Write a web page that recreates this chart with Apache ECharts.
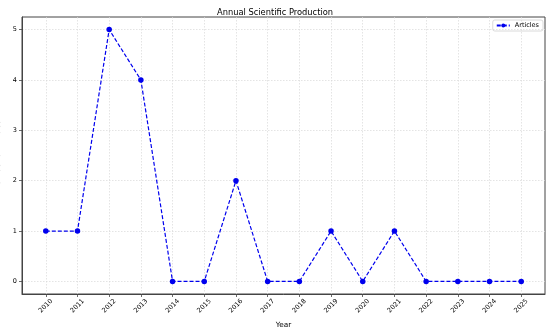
<!DOCTYPE html>
<html><head><meta charset="utf-8">
<script src="https://cdn.jsdelivr.net/npm/echarts@6/dist/echarts.min.js"></script>
<style>html,body{margin:0;padding:0;background:#fff}#c{width:550px;height:329px}</style>
</head><body><div id="c"></div>
<script>
const years = [2010,2011,2012,2013,2014,2015,2016,2017,2018,2019,2020,2021,2022,2023,2024,2025];
const articles = [1,1,5,4,0,0,2,0,0,1,0,1,0,0,0,0];
const yTicks = [0,1,2,3,4,5];
const seriesName = 'Articles';
const titleText = 'Annual Scientific Production';
const xName = 'Year';
const yName = 'Number of Articles';

const font = 'DejaVu Sans';
const chart = echarts.init(document.getElementById('c'), null, {renderer:'canvas'});
const gridLine = {show:true, lineStyle:{color:'#d8d8d8', type:[1.5,1.5], width:0.7}};
chart.setOption({
  animation:false,
  backgroundColor:'#fff',
  title:{text:titleText, left:'center', top:4, textStyle:{fontFamily:font, fontSize:8.3, fontWeight:'normal', color:'#000'}},
  legend:{
    data:[seriesName], right:7, top:20, padding:[2,4,2,3], itemWidth:13, itemHeight:5, itemGap:4,
    borderColor:'#d0d0d0', borderWidth:0.8, borderRadius:2,
    textStyle:{fontFamily:font, fontSize:6.5, color:'#000'}
  },
  grid:{left:22, right:5, top:17, bottom:35, show:true, borderColor:'#444', borderWidth:1, backgroundColor:'transparent', outerBoundsMode:'none', containLabel:false},
  xAxis:{
    type:'value', min:2009.25, max:2025.75,
    name:xName, nameLocation:'middle', nameGap:26,
    nameTextStyle:{fontFamily:font, fontSize:7.3, color:'#000'},
    axisLine:{show:true, onZero:false, lineStyle:{color:'#444', width:1}},
    axisTick:{show:true, customValues:years, length:3, lineStyle:{color:'#444', width:0.8}},
    axisLabel:{customValues:years, rotate:45, align:'center', verticalAlign:'middle', margin:12,
      fontFamily:font, fontSize:6.5, color:'#000', formatter:v=>String(v)},
    splitLine:gridLine
  },
  yAxis:{
    type:'value', min:-0.25, max:5.25,
    name:yName, nameLocation:'middle', nameGap:15, nameRotate:90,
    nameTextStyle:{fontFamily:font, fontSize:7.5, color:'#000'},
    axisLine:{show:true, onZero:false, lineStyle:{color:'#444', width:1}},
    axisTick:{show:true, customValues:yTicks, length:3, lineStyle:{color:'#444', width:0.8}},
    axisLabel:{customValues:yTicks, margin:5, fontFamily:font, fontSize:6.5, color:'#000', formatter:v=>String(v)},
    splitLine:gridLine
  },
  series:[{
    name:seriesName, type:'line',
    data:years.map((y,i)=>[y, articles[i]]),
    symbol:'circle', symbolSize:5.5,
    itemStyle:{color:'#0000ee'},
    lineStyle:{color:'#0000ee', width:1.2, type:[4,2]}
  }]
});
</script></body></html>
